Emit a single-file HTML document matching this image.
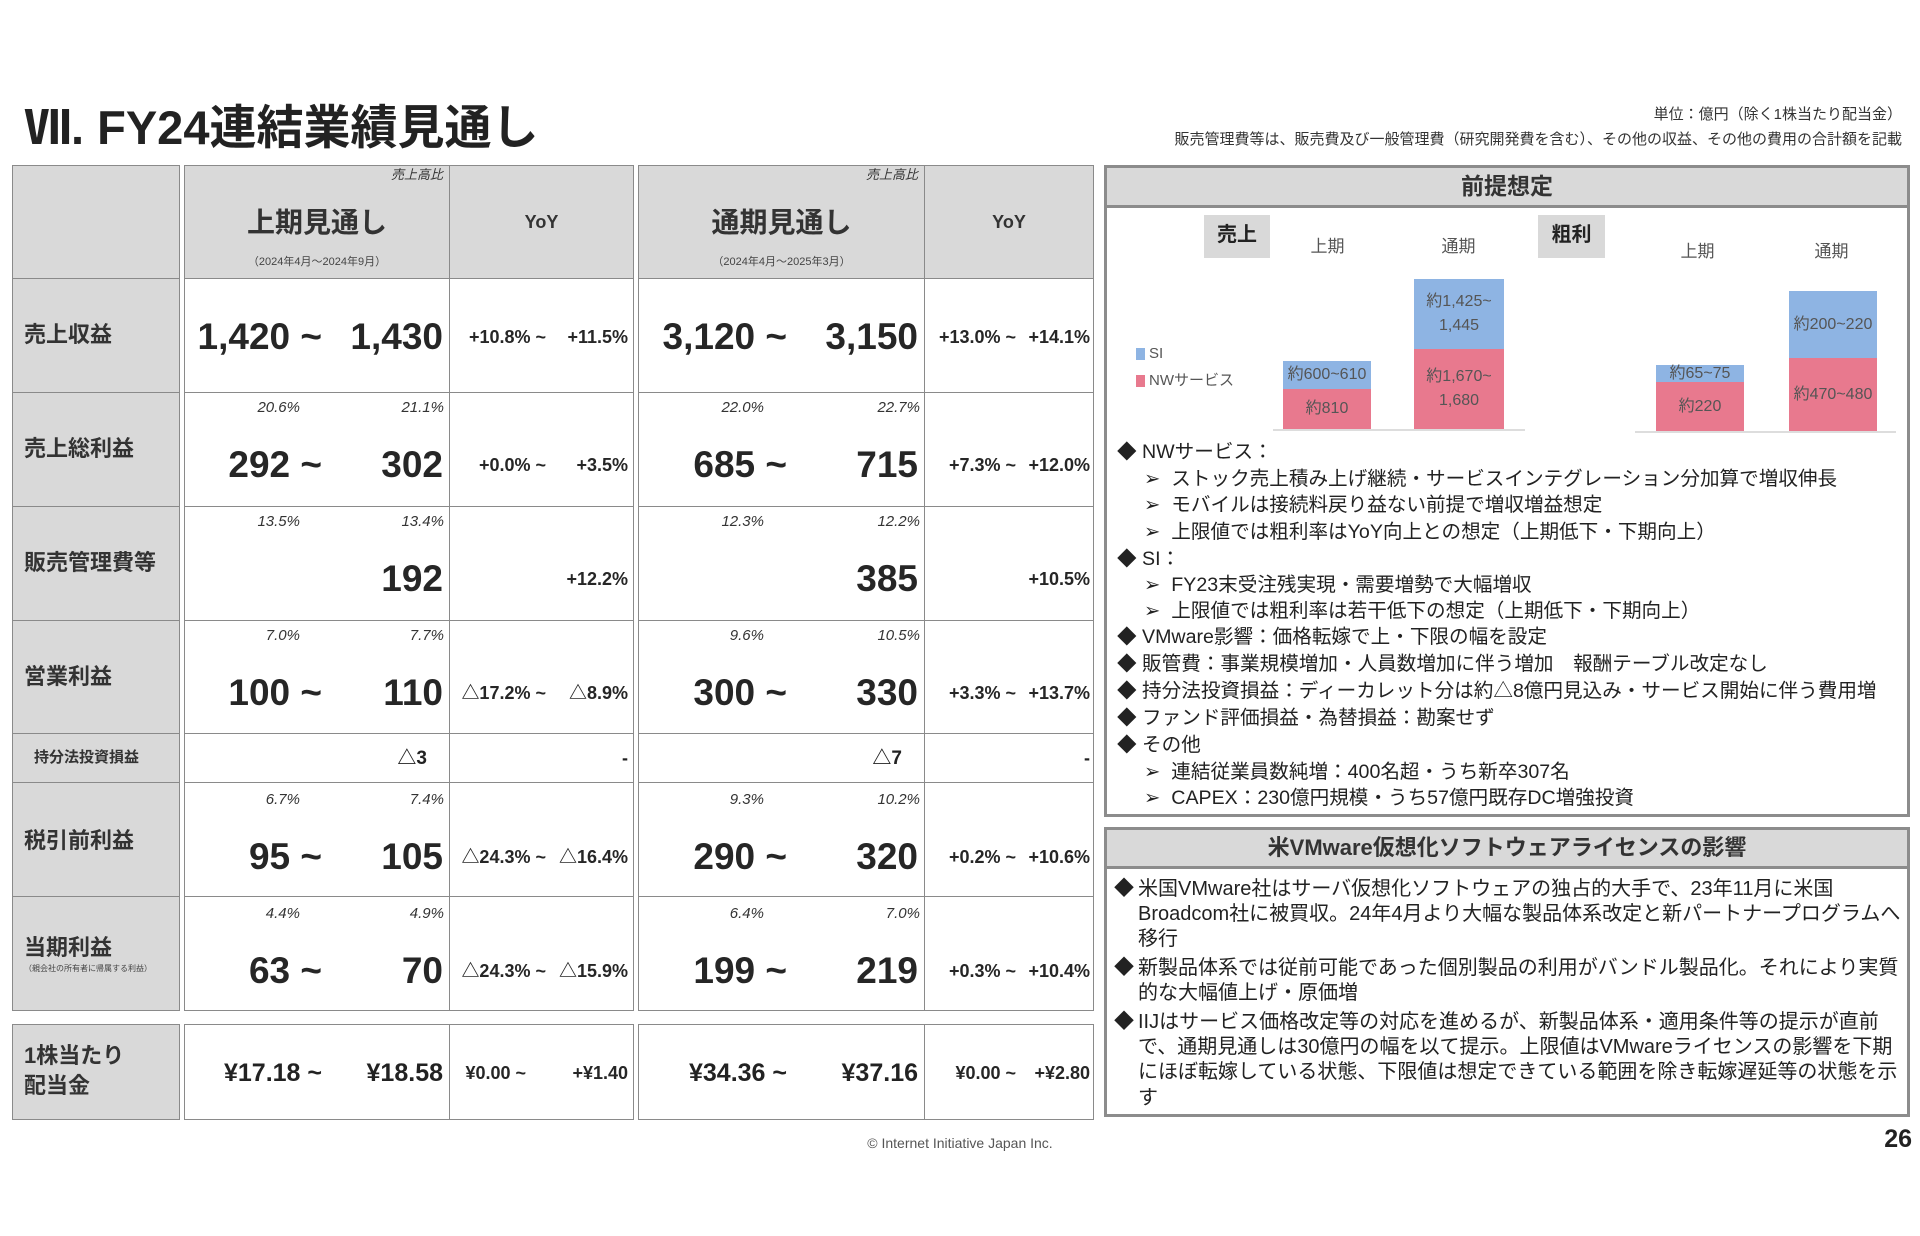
<!DOCTYPE html>
<html><head><meta charset="utf-8">
<style>
*{margin:0;padding:0;box-sizing:border-box}
body{width:1920px;height:1236px;background:#fff;position:relative;overflow:hidden;font-family:"Liberation Sans","Noto Sans CJK JP",sans-serif;color:#222}
.a{position:absolute}
.t{position:absolute;white-space:nowrap;line-height:1}
.c{position:absolute;background:#fff;border:1px solid #8a8a8a}
.g{background:#d9d9d9}
.n{font-weight:bold;font-size:37px;color:#262626}
.y{font-weight:bold;font-size:18px;color:#262626}
.p{font-style:italic;font-size:15px;color:#333}
.lb{font-weight:bold;font-size:22px;color:#333;left:24px}
.bl{font-size:19.6px;color:#222}
.b2{font-size:20px;color:#222}
.bar{position:absolute;color:#555;font-size:16px;text-align:center;display:flex;align-items:center;justify-content:center;flex-direction:column;line-height:1.5}
</style></head><body>

<div class="t" style="left:24px;top:104px;font-size:47px;font-weight:bold;color:#222">Ⅶ. FY24連結業績見通し</div>
<div class="t" style="right:18px;top:107px;font-size:15px;color:#333">単位：億円（除く1株当たり配当金）</div>
<div class="t" style="right:18px;top:132px;font-size:15px;color:#333">販売管理費等は、販売費及び一般管理費（研究開発費を含む）、その他の収益、その他の費用の合計額を記載</div>

<div class="c g" style="left:12px;top:165px;width:168px;height:114px"></div>
<div class="c g" style="left:184px;top:165px;width:266px;height:114px"></div>
<div class="c g" style="left:449px;top:165px;width:185px;height:114px"></div>
<div class="c g" style="left:638px;top:165px;width:287px;height:114px"></div>
<div class="c g" style="left:924px;top:165px;width:170px;height:114px"></div>

<div class="c g" style="left:12px;top:278px;width:168px;height:115px"></div>
<div class="c g" style="left:12px;top:392px;width:168px;height:115px"></div>
<div class="c g" style="left:12px;top:506px;width:168px;height:115px"></div>
<div class="c g" style="left:12px;top:620px;width:168px;height:114px"></div>
<div class="c g" style="left:12px;top:733px;width:168px;height:50px"></div>
<div class="c g" style="left:12px;top:782px;width:168px;height:115px"></div>
<div class="c g" style="left:12px;top:896px;width:168px;height:115px"></div>
<div class="c g" style="left:12px;top:1024px;width:168px;height:96px"></div>

<div class="c" style="left:184px;top:278px;width:266px;height:115px"></div>
<div class="c" style="left:449px;top:278px;width:185px;height:115px"></div>
<div class="c" style="left:638px;top:278px;width:287px;height:115px"></div>
<div class="c" style="left:924px;top:278px;width:170px;height:115px"></div>
<div class="c" style="left:184px;top:392px;width:266px;height:115px"></div>
<div class="c" style="left:449px;top:392px;width:185px;height:115px"></div>
<div class="c" style="left:638px;top:392px;width:287px;height:115px"></div>
<div class="c" style="left:924px;top:392px;width:170px;height:115px"></div>
<div class="c" style="left:184px;top:506px;width:266px;height:115px"></div>
<div class="c" style="left:449px;top:506px;width:185px;height:115px"></div>
<div class="c" style="left:638px;top:506px;width:287px;height:115px"></div>
<div class="c" style="left:924px;top:506px;width:170px;height:115px"></div>
<div class="c" style="left:184px;top:620px;width:266px;height:114px"></div>
<div class="c" style="left:449px;top:620px;width:185px;height:114px"></div>
<div class="c" style="left:638px;top:620px;width:287px;height:114px"></div>
<div class="c" style="left:924px;top:620px;width:170px;height:114px"></div>
<div class="c" style="left:184px;top:733px;width:266px;height:50px"></div>
<div class="c" style="left:449px;top:733px;width:185px;height:50px"></div>
<div class="c" style="left:638px;top:733px;width:287px;height:50px"></div>
<div class="c" style="left:924px;top:733px;width:170px;height:50px"></div>
<div class="c" style="left:184px;top:782px;width:266px;height:115px"></div>
<div class="c" style="left:449px;top:782px;width:185px;height:115px"></div>
<div class="c" style="left:638px;top:782px;width:287px;height:115px"></div>
<div class="c" style="left:924px;top:782px;width:170px;height:115px"></div>
<div class="c" style="left:184px;top:896px;width:266px;height:115px"></div>
<div class="c" style="left:449px;top:896px;width:185px;height:115px"></div>
<div class="c" style="left:638px;top:896px;width:287px;height:115px"></div>
<div class="c" style="left:924px;top:896px;width:170px;height:115px"></div>
<div class="c" style="left:184px;top:1024px;width:266px;height:96px"></div>
<div class="c" style="left:449px;top:1024px;width:185px;height:96px"></div>
<div class="c" style="left:638px;top:1024px;width:287px;height:96px"></div>
<div class="c" style="left:924px;top:1024px;width:170px;height:96px"></div>

<div class="t p" style="right:1477px;top:168px;font-size:13px">売上高比</div>
<div class="t p" style="right:1002px;top:168px;font-size:13px">売上高比</div>
<div class="t" style="left:184px;width:266px;text-align:center;top:209px;font-size:28px;font-weight:bold;color:#333">上期見通し</div>
<div class="t" style="left:184px;width:266px;text-align:center;top:257px;font-size:11px;color:#444">（2024年4月～2024年9月）</div>
<div class="t" style="left:449px;width:185px;text-align:center;top:213px;font-size:18px;font-weight:bold;color:#333">YoY</div>
<div class="t" style="left:638px;width:287px;text-align:center;top:209px;font-size:28px;font-weight:bold;color:#333">通期見通し</div>
<div class="t" style="left:638px;width:287px;text-align:center;top:257px;font-size:11px;color:#444">（2024年4月～2025年3月）</div>
<div class="t" style="left:924px;width:170px;text-align:center;top:213px;font-size:18px;font-weight:bold;color:#333">YoY</div>

<div class="t lb" style="top:324px">売上収益</div>
<div class="t lb" style="top:438px">売上総利益</div>
<div class="t lb" style="top:552px">販売管理費等</div>
<div class="t lb" style="top:666px">営業利益</div>
<div class="t lb" style="top:750px;font-size:15px;left:34px">持分法投資損益</div>
<div class="t lb" style="top:830px">税引前利益</div>
<div class="t lb" style="top:937px">当期利益</div>
<div class="t" style="left:24px;top:965px;font-size:8px;color:#444">（親会社の所有者に帰属する利益）</div>
<div class="t lb" style="top:1045px">1株当たり</div>
<div class="t lb" style="top:1075px">配当金</div>

<div class="t n" style="right:1598px;top:318px">1,420 ~</div>
<div class="t n" style="right:1477px;top:318px">1,430</div>
<div class="t y" style="right:1374px;top:328px">+10.8% ~</div>
<div class="t y" style="right:1292px;top:328px">+11.5%</div>
<div class="t n" style="right:1133px;top:318px">3,120 ~</div>
<div class="t n" style="right:1002px;top:318px">3,150</div>
<div class="t y" style="right:904px;top:328px">+13.0% ~</div>
<div class="t y" style="right:830px;top:328px">+14.1%</div>
<div class="t p" style="right:1620px;top:400px">20.6%</div>
<div class="t p" style="right:1476px;top:400px">21.1%</div>
<div class="t p" style="right:1156px;top:400px">22.0%</div>
<div class="t p" style="right:1000px;top:400px">22.7%</div>
<div class="t n" style="right:1598px;top:446px">292 ~</div>
<div class="t n" style="right:1477px;top:446px">302</div>
<div class="t y" style="right:1374px;top:456px">+0.0% ~</div>
<div class="t y" style="right:1292px;top:456px">+3.5%</div>
<div class="t n" style="right:1133px;top:446px">685 ~</div>
<div class="t n" style="right:1002px;top:446px">715</div>
<div class="t y" style="right:904px;top:456px">+7.3% ~</div>
<div class="t y" style="right:830px;top:456px">+12.0%</div>
<div class="t p" style="right:1620px;top:514px">13.5%</div>
<div class="t p" style="right:1476px;top:514px">13.4%</div>
<div class="t p" style="right:1156px;top:514px">12.3%</div>
<div class="t p" style="right:1000px;top:514px">12.2%</div>
<div class="t n" style="right:1477px;top:560px">192</div>
<div class="t y" style="right:1292px;top:570px">+12.2%</div>
<div class="t n" style="right:1002px;top:560px">385</div>
<div class="t y" style="right:830px;top:570px">+10.5%</div>
<div class="t p" style="right:1620px;top:628px">7.0%</div>
<div class="t p" style="right:1476px;top:628px">7.7%</div>
<div class="t p" style="right:1156px;top:628px">9.6%</div>
<div class="t p" style="right:1000px;top:628px">10.5%</div>
<div class="t n" style="right:1598px;top:674px">100 ~</div>
<div class="t n" style="right:1477px;top:674px">110</div>
<div class="t y" style="right:1374px;top:684px">△17.2% ~</div>
<div class="t y" style="right:1292px;top:684px">△8.9%</div>
<div class="t n" style="right:1133px;top:674px">300 ~</div>
<div class="t n" style="right:1002px;top:674px">330</div>
<div class="t y" style="right:904px;top:684px">+3.3% ~</div>
<div class="t y" style="right:830px;top:684px">+13.7%</div>
<div class="t" style="right:1493px;top:749px;font-size:19px;font-weight:bold">△3</div>
<div class="t" style="right:1292px;top:749px;font-size:18px;font-weight:bold">-</div>
<div class="t" style="right:1018px;top:749px;font-size:19px;font-weight:bold">△7</div>
<div class="t" style="right:830px;top:749px;font-size:18px;font-weight:bold">-</div>
<div class="t p" style="right:1620px;top:792px">6.7%</div>
<div class="t p" style="right:1476px;top:792px">7.4%</div>
<div class="t p" style="right:1156px;top:792px">9.3%</div>
<div class="t p" style="right:1000px;top:792px">10.2%</div>
<div class="t n" style="right:1598px;top:838px">95 ~</div>
<div class="t n" style="right:1477px;top:838px">105</div>
<div class="t y" style="right:1374px;top:848px">△24.3% ~</div>
<div class="t y" style="right:1292px;top:848px">△16.4%</div>
<div class="t n" style="right:1133px;top:838px">290 ~</div>
<div class="t n" style="right:1002px;top:838px">320</div>
<div class="t y" style="right:904px;top:848px">+0.2% ~</div>
<div class="t y" style="right:830px;top:848px">+10.6%</div>
<div class="t p" style="right:1620px;top:906px">4.4%</div>
<div class="t p" style="right:1476px;top:906px">4.9%</div>
<div class="t p" style="right:1156px;top:906px">6.4%</div>
<div class="t p" style="right:1000px;top:906px">7.0%</div>
<div class="t n" style="right:1598px;top:952px">63 ~</div>
<div class="t n" style="right:1477px;top:952px">70</div>
<div class="t y" style="right:1374px;top:962px">△24.3% ~</div>
<div class="t y" style="right:1292px;top:962px">△15.9%</div>
<div class="t n" style="right:1133px;top:952px">199 ~</div>
<div class="t n" style="right:1002px;top:952px">219</div>
<div class="t y" style="right:904px;top:962px">+0.3% ~</div>
<div class="t y" style="right:830px;top:962px">+10.4%</div>
<div class="t" style="right:1598px;top:1061px;font-size:25px;font-weight:bold">¥17.18 ~</div>
<div class="t" style="right:1477px;top:1061px;font-size:25px;font-weight:bold">¥18.58</div>
<div class="t y" style="right:1394px;top:1064px">¥0.00 ~</div>
<div class="t y" style="right:1292px;top:1064px">+¥1.40</div>
<div class="t" style="right:1133px;top:1061px;font-size:25px;font-weight:bold">¥34.36 ~</div>
<div class="t" style="right:1002px;top:1061px;font-size:25px;font-weight:bold">¥37.16</div>
<div class="t y" style="right:904px;top:1064px">¥0.00 ~</div>
<div class="t y" style="right:830px;top:1064px">+¥2.80</div>

<div class="a" style="left:1104px;top:165px;width:806px;height:652px;border:3px solid #8c8c8c"></div>
<div class="a g" style="left:1107px;top:168px;width:800px;height:40px;border-bottom:3px solid #8c8c8c"></div>
<div class="t" style="left:1104px;width:806px;text-align:center;top:175px;font-size:23px;font-weight:bold;color:#333">前提想定</div>

<div class="a g" style="left:1204px;top:215px;width:66px;height:43px"></div>
<div class="t" style="left:1204px;width:66px;text-align:center;top:225px;font-size:20px;font-weight:bold">売上</div>
<div class="a g" style="left:1538px;top:215px;width:67px;height:43px"></div>
<div class="t" style="left:1538px;width:67px;text-align:center;top:225px;font-size:20px;font-weight:bold">粗利</div>
<div class="t" style="left:1300px;width:55px;text-align:center;top:238px;font-size:17px;color:#555">上期</div>
<div class="t" style="left:1431px;width:55px;text-align:center;top:238px;font-size:17px;color:#555">通期</div>
<div class="t" style="left:1670px;width:55px;text-align:center;top:243px;font-size:17px;color:#555">上期</div>
<div class="t" style="left:1804px;width:55px;text-align:center;top:243px;font-size:17px;color:#555">通期</div>

<div class="a" style="left:1136px;top:348px;width:9px;height:12px;background:#8eb4e3"></div>
<div class="t" style="left:1149px;top:346px;font-size:15px;color:#555">SI</div>
<div class="a" style="left:1136px;top:375px;width:9px;height:12px;background:#e8798e"></div>
<div class="t" style="left:1149px;top:373px;font-size:15px;color:#555">NWサービス</div>

<div class="a" style="left:1273px;top:429px;width:252px;height:2px;background:#ddd"></div>
<div class="a" style="left:1635px;top:431px;width:261px;height:2px;background:#ddd"></div>
<div class="bar" style="left:1283px;top:361px;width:88px;height:28px;background:#8eb4e3">約600~610</div>
<div class="bar" style="left:1283px;top:389px;width:88px;height:40px;background:#e8798e">約810</div>
<div class="bar" style="left:1414px;top:279px;width:90px;height:70px;background:#8eb4e3">約1,425~<br>1,445</div>
<div class="bar" style="left:1414px;top:349px;width:90px;height:80px;background:#e8798e">約1,670~<br>1,680</div>
<div class="bar" style="left:1656px;top:365px;width:88px;height:17px;background:#8eb4e3">約65~75</div>
<div class="bar" style="left:1656px;top:382px;width:88px;height:49px;background:#e8798e">約220</div>
<div class="bar" style="left:1789px;top:291px;width:88px;height:67px;background:#8eb4e3">約200~220</div>
<div class="bar" style="left:1789px;top:358px;width:88px;height:73px;background:#e8798e">約470~480</div>

<div class="t bl" style="left:1117px;top:443px">◆ NWサービス：</div>
<div class="t bl" style="left:1144px;top:470px">➢&nbsp; ストック売上積み上げ継続・サービスインテグレーション分加算で増収伸長</div>
<div class="t bl" style="left:1144px;top:496px">➢&nbsp; モバイルは接続料戻り益ない前提で増収増益想定</div>
<div class="t bl" style="left:1144px;top:523px">➢&nbsp; 上限値では粗利率はYoY向上との想定（上期低下・下期向上）</div>
<div class="t bl" style="left:1117px;top:550px">◆ SI：</div>
<div class="t bl" style="left:1144px;top:576px">➢&nbsp; FY23末受注残実現・需要増勢で大幅増収</div>
<div class="t bl" style="left:1144px;top:602px">➢&nbsp; 上限値では粗利率は若干低下の想定（上期低下・下期向上）</div>
<div class="t bl" style="left:1117px;top:628px">◆ VMware影響：価格転嫁で上・下限の幅を設定</div>
<div class="t bl" style="left:1117px;top:655px">◆ 販管費：事業規模増加・人員数増加に伴う増加　報酬テーブル改定なし</div>
<div class="t bl" style="left:1117px;top:682px">◆ 持分法投資損益：ディーカレット分は約△8億円見込み・サービス開始に伴う費用増</div>
<div class="t bl" style="left:1117px;top:709px">◆ ファンド評価損益・為替損益：勘案せず</div>
<div class="t bl" style="left:1117px;top:736px">◆ その他</div>
<div class="t bl" style="left:1144px;top:763px">➢&nbsp; 連結従業員数純増：400名超・うち新卒307名</div>
<div class="t bl" style="left:1144px;top:789px">➢&nbsp; CAPEX：230億円規模・うち57億円既存DC増強投資</div>

<div class="a" style="left:1104px;top:827px;width:806px;height:290px;border:3px solid #8c8c8c"></div>
<div class="a g" style="left:1107px;top:830px;width:800px;height:39px;border-bottom:3px solid #8c8c8c"></div>
<div class="t" style="left:1104px;width:806px;text-align:center;top:837px;font-size:22px;font-weight:bold;color:#333">米VMware仮想化ソフトウェアライセンスの影響</div>
<div class="t b2" style="left:1114px;top:879px">◆</div>
<div class="t b2" style="left:1138px;top:879px">米国VMware社はサーバ仮想化ソフトウェアの独占的大手で、23年11月に米国</div>
<div class="t b2" style="left:1138px;top:904px">Broadcom社に被買収。24年4月より大幅な製品体系改定と新パートナープログラムへ</div>
<div class="t b2" style="left:1138px;top:929px">移行</div>
<div class="t b2" style="left:1114px;top:958px">◆</div>
<div class="t b2" style="left:1138px;top:958px">新製品体系では従前可能であった個別製品の利用がバンドル製品化。それにより実質</div>
<div class="t b2" style="left:1138px;top:983px">的な大幅値上げ・原価増</div>
<div class="t b2" style="left:1114px;top:1012px">◆</div>
<div class="t b2" style="left:1138px;top:1012px">IIJはサービス価格改定等の対応を進めるが、新製品体系・適用条件等の提示が直前</div>
<div class="t b2" style="left:1138px;top:1037px">で、通期見通しは30億円の幅を以て提示。上限値はVMwareライセンスの影響を下期</div>
<div class="t b2" style="left:1138px;top:1062px">にほぼ転嫁している状態、下限値は想定できている範囲を除き転嫁遅延等の状態を示</div>
<div class="t b2" style="left:1138px;top:1088px">す</div>

<div class="t" style="left:780px;width:360px;text-align:center;top:1136px;font-size:14px;color:#555">© Internet Initiative Japan Inc.</div>
<div class="t" style="right:8px;top:1127px;font-size:25px;font-weight:bold;color:#222">26</div>
</body></html>
